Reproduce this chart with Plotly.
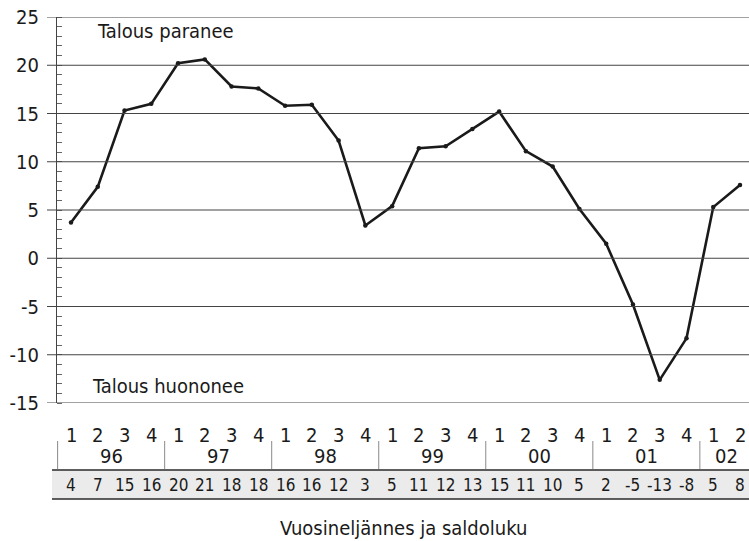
import plotly.graph_objects as go

quarters = [1, 2, 3, 4] * 6 + [1, 2]
years = ["96", "97", "98", "99", "00", "01", "02"]
year_quarter_counts = [4, 4, 4, 4, 4, 4, 2]
values = [3.7, 7.4, 15.3, 16.0, 20.2, 20.6, 17.8, 17.6, 15.8, 15.9, 12.2, 3.4,
          5.4, 11.4, 11.6, 13.4, 15.2, 11.1, 9.5, 5.1, 1.5, -4.8, -12.6, -8.3,
          5.3, 7.6]
saldo_labels = ["4", "7", "15", "16", "20", "21", "18", "18", "16", "16", "12", "3",
                "5", "11", "12", "13", "15", "11", "10", "5", "2", "-5", "-13", "-8",
                "5", "8"]
y_ticks = [25, 20, 15, 10, 5, 0, -5, -10, -15]

FONT = "Liberation Sans Narrow, DejaVu Sans Condensed, Arial Narrow, sans-serif"
TXT = "#1a1a1a"
x = list(range(1, len(values) + 1))

W, H = 749, 541
ML, MR, MT, MB = 57, 0, 17, 138
PH = H - MT - MB
PW = W - ML - MR

def py(pixel_y):
    return (H - MB - pixel_y) / PH

def px(pixel_x):
    return (pixel_x - ML) / PW

fig = go.Figure()
fig.add_trace(go.Scatter(
    x=x, y=values, mode="lines+markers",
    line=dict(color="#1a1a1a", width=2.6),
    marker=dict(color="#1a1a1a", size=4.5),
    hoverinfo="skip", showlegend=False,
))

shapes = []
for t in y_ticks:
    shapes.append(dict(type="line", xref="paper", yref="y", x0=px(47), x1=1,
                       y0=t, y1=t, line=dict(color="#444444", width=1.2)))

row1_y = 435
sep_top, sep_bot = 441, 469
band_top, band_bot = 470, 499
shapes.append(dict(type="rect", xref="paper", yref="paper", x0=px(52), x1=1,
                   y0=py(band_bot), y1=py(band_top), fillcolor="#ebebeb",
                   line=dict(width=0), layer="below"))
for yy in (band_top, band_bot):
    shapes.append(dict(type="line", xref="paper", yref="paper", x0=px(52), x1=1,
                       y0=py(yy), y1=py(yy), line=dict(color="#2a2a2a", width=1.6)))
pos = 0.5
seps = [pos]
for c in year_quarter_counts[:-1]:
    pos += c
    seps.append(pos)
for s in seps:
    shapes.append(dict(type="line", xref="x", yref="paper", x0=s, x1=s,
                       y0=py(sep_bot), y1=py(sep_top), line=dict(color="#8a8a8a", width=1)))

def ann(xv, yv, text, size, xref="x", xanchor="center"):
    return dict(x=xv, y=yv, xref=xref, yref="paper", text=text, showarrow=False,
                font=dict(size=size, color=TXT, family=FONT),
                xanchor=xanchor, yanchor="middle")

annotations = []
for xi, q in zip(x, quarters):
    annotations.append(ann(xi, py(row1_y), str(q), 20))
start = 0.5
for yr, c in zip(years, year_quarter_counts):
    annotations.append(ann(start + c / 2, py(456), yr, 20))
    start += c
for xi, s in zip(x, saldo_labels):
    annotations.append(ann(xi, py(485), s, 17))
annotations.append(ann(px(403), py(528), "Vuosineljännes ja saldoluku", 20, xref="paper"))
annotations.append(ann(px(95), py(31), "Talous paranee", 20, xref="paper", xanchor="left"))
annotations.append(ann(px(90), py(386), "Talous huononee", 20, xref="paper", xanchor="left"))

fig.update_layout(
    width=W, height=H,
    margin=dict(l=ML, r=MR, t=MT, b=MB),
    paper_bgcolor="white", plot_bgcolor="white",
    shapes=shapes, annotations=annotations,
    xaxis=dict(range=[0.477, 26.336], showgrid=False, zeroline=False,
               showticklabels=False, ticks="", showline=False, fixedrange=True),
    yaxis=dict(range=[-15, 25], tickvals=y_ticks, ticktext=[str(t) for t in y_ticks],
               showgrid=False, zeroline=False, showline=True, linecolor="#444444",
               linewidth=1.2, ticks="",
               minor=dict(ticks="inside", dtick=1, ticklen=5, tickcolor="#666666",
                          tick0=0, showgrid=False),
               tickfont=dict(size=20, color=TXT, family=FONT),
               ticklabelstandoff=13, fixedrange=True),
)

fig.write_html("out.html", config={"displayModeBar": False},
               post_script="document.body.style.margin='0';document.body.style.overflow='hidden';")
